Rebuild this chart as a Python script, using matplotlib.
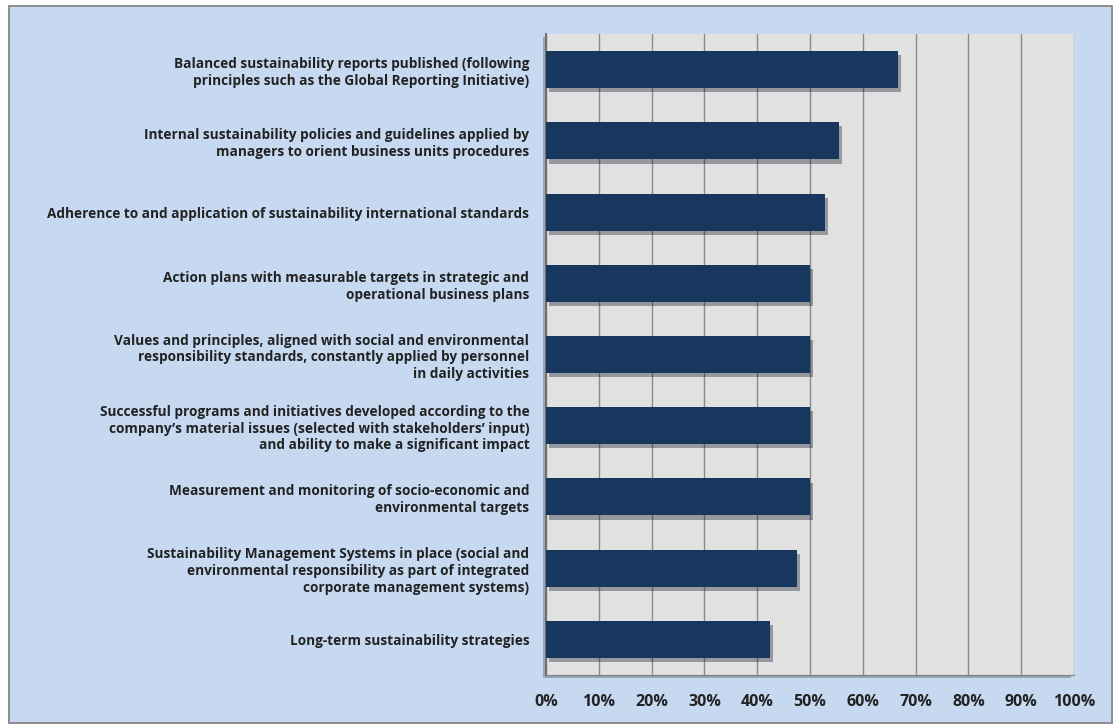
import matplotlib
matplotlib.use("Agg")
import matplotlib.pyplot as plt
import matplotlib.patheffects as pe
from matplotlib.patches import Rectangle
from matplotlib.ticker import PercentFormatter

# categories listed top to bottom
categories = [
    "Balanced sustainability reports published (following\nprinciples such as the Global Reporting Initiative)",
    "Internal sustainability policies and guidelines applied by\nmanagers to orient business units procedures",
    "Adherence to and application of sustainability international standards",
    "Action plans with measurable targets in strategic and\noperational business plans",
    "Values and principles, aligned with social and environmental\nresponsibility standards, constantly applied by personnel\nin daily activities",
    "Successful programs and initiatives developed according to the\ncompany\u2019s material issues (selected with stakeholders\u2019 input)\nand ability to make a significant impact",
    "Measurement and monitoring of socio-economic and\nenvironmental targets",
    "Sustainability Management Systems in place (social and\nenvironmental responsibility as part of integrated\ncorporate management systems)",
    "Long-term sustainability strategies",
]
shares = [66.7, 55.5, 52.8, 50.0, 50.0, 50.0, 50.0, 47.5, 42.5]
xticks = list(range(0, 101, 10))

plt.rcParams["font.family"] = ["Open Sans", "DejaVu Sans"]

fig = plt.figure(figsize=(11.15, 7.28), dpi=100)
fig.patch.set_facecolor("white")

# light blue chart frame
frame = Rectangle((9 / 1115, 5 / 728), 1103 / 1115, 717 / 728,
                  transform=fig.transFigure, facecolor="#c6d9f0",
                  edgecolor="#8c8c8c", linewidth=1.4, zorder=-5)
fig.patches.append(frame)

ax = fig.add_axes([546 / 1115, 53 / 728, 528 / 1115, 641 / 728])
ax.set_zorder(2)
ax.set_facecolor("#e1e1e1")
ax.patch.set_path_effects([pe.SimplePatchShadow(offset=(-2, -2), alpha=0.35), pe.Normal()])

ypos = list(range(len(categories)))
bars = ax.barh(ypos, shares, height=0.52, color="#17375e", zorder=3)
for b in bars:
    b.set_path_effects([pe.SimplePatchShadow(offset=(2, -3), alpha=0.35), pe.Normal()])

ax.set_xlim(0, 100)
ax.set_ylim(len(categories) - 0.5, -0.5)
ax.set_xticks(xticks)
ax.xaxis.set_major_formatter(PercentFormatter(decimals=0))
ax.grid(axis="x", color="#8a8a8a", linewidth=1.0, zorder=1)
ax.set_axisbelow(True)

ax.set_yticks(ypos)
ax.set_yticklabels(categories, fontsize=9.8, fontweight="bold",
                   color="#222222", linespacing=1.25)
for lab in ax.get_xticklabels():
    lab.set_fontsize(11.5)
    lab.set_fontweight("bold")
    lab.set_color("#222222")

ax.tick_params(axis="y", length=0, pad=12)
ax.tick_params(axis="x", length=0, pad=14)
for side in ["top", "right"]:
    ax.spines[side].set_visible(False)
ax.spines["left"].set_color("#6f6f6f")
ax.spines["left"].set_linewidth(1.4)
ax.spines["bottom"].set_color("#7f7f7f")

fig.savefig("out.png", dpi=100, facecolor=fig.get_facecolor())
